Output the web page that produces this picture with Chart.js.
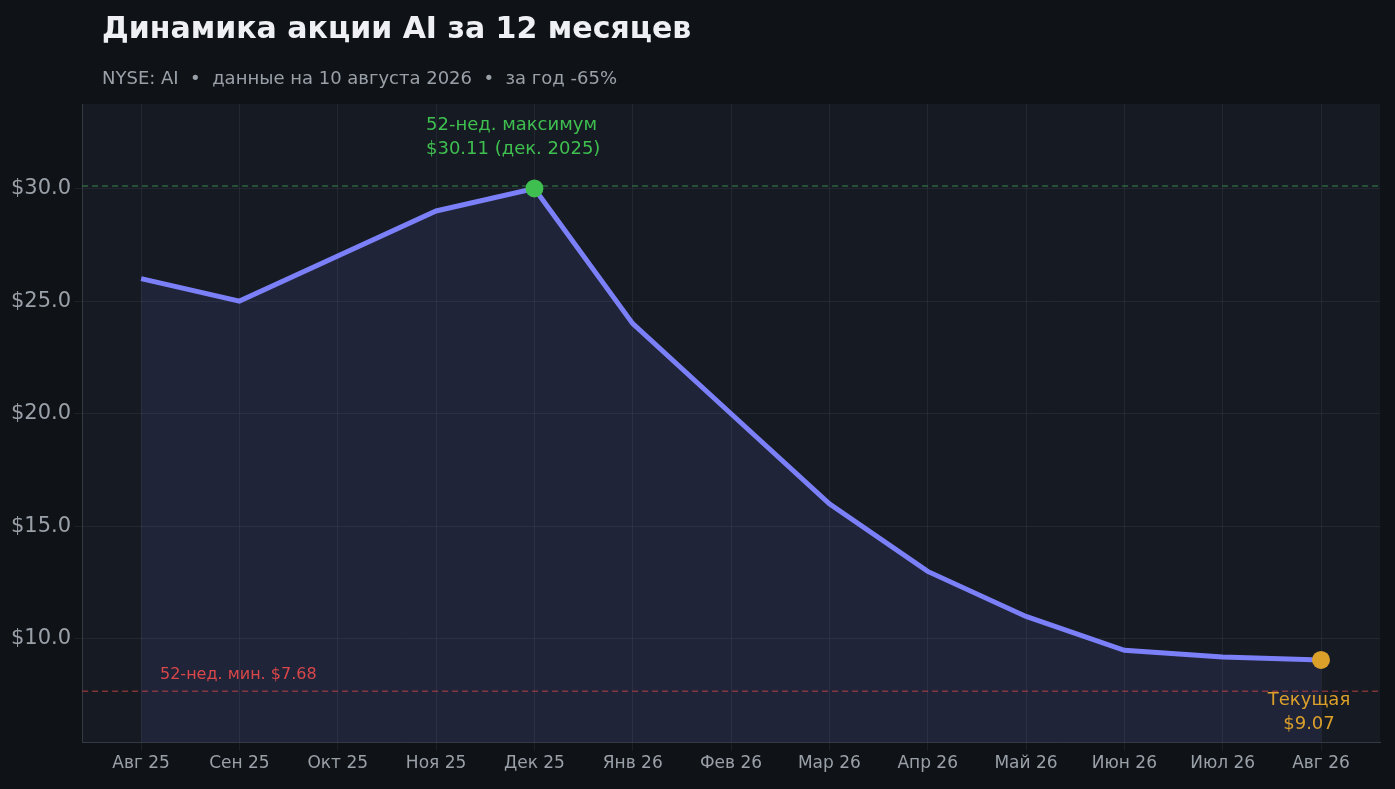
<!DOCTYPE html>
<html><head><meta charset="utf-8">
<script src="https://cdn.jsdelivr.net/npm/chart.js@4/dist/chart.umd.min.js"></script>
<style>html,body{margin:0;background:#0f1317;overflow:hidden}</style>
</head><body><canvas id="c" width="1395" height="789"></canvas>
<script>
const months=["Авг 25","Сен 25","Окт 25","Ноя 25","Дек 25","Янв 26","Фев 26","Мар 26","Апр 26","Май 26","Июн 26","Июл 26","Авг 26"];
const prices=[26,25,27,29,30,24,20,16,13,11,9.5,9.2,9.07];
const high52=30.11, low52=7.68;
const yTicks=[10,15,20,25,30];
const F='"DejaVu Sans", sans-serif';
const deco={id:'deco',
 beforeDraw(ch){const {ctx,chartArea:a}=ch;ctx.save();ctx.fillStyle='#161a22';ctx.fillRect(a.left,a.top,a.right-a.left,a.bottom-a.top);ctx.restore();},
 afterDatasetsDraw(ch){const {ctx,chartArea:a,scales:{x,y}}=ch;ctx.save();
  ctx.setLineDash([6,4]);ctx.lineWidth=1.5;
  ctx.strokeStyle='rgba(60,150,80,0.6)';ctx.beginPath();ctx.moveTo(a.left,y.getPixelForValue(high52));ctx.lineTo(a.right,y.getPixelForValue(high52));ctx.stroke();
  ctx.strokeStyle='rgba(200,70,70,0.6)';ctx.beginPath();ctx.moveTo(a.left,y.getPixelForValue(low52));ctx.lineTo(a.right,y.getPixelForValue(low52));ctx.stroke();
  ctx.setLineDash([]);
  ctx.fillStyle='#3fbf50';ctx.beginPath();ctx.arc(x.getPixelForValue(4),y.getPixelForValue(prices[4]),9,0,7);ctx.fill();
  ctx.fillStyle='#dba02a';ctx.beginPath();ctx.arc(x.getPixelForValue(12),y.getPixelForValue(prices[12]),9,0,7);ctx.fill();
  ctx.font='18px '+F;ctx.textAlign='left';ctx.fillStyle='#3fbf50';
  ctx.fillText('52-нед. максимум',426,130);ctx.fillText('$30.11 (дек. 2025)',426,154);
  ctx.font='16px '+F;ctx.fillStyle='#d9474a';ctx.fillText('52-нед. мин. $7.68',160,679);
  ctx.font='18px '+F;ctx.textAlign='center';ctx.fillStyle='#dba02a';
  ctx.fillText('Текущая',1309,705);ctx.fillText('$9.07',1309,729);
  ctx.textAlign='left';ctx.font='bold 30px '+F;ctx.fillStyle='#eef0f3';ctx.fillText('Динамика акции AI за 12 месяцев',102,38);
  ctx.font='18px '+F;ctx.fillStyle='#9aa0a8';ctx.fillText('NYSE: AI  •  данные на 10 августа 2026  •  за год -65%',102,84);
  ctx.restore();}};
new Chart(document.getElementById('c'),{type:'line',
 data:{datasets:[{data:prices.map((v,i)=>({x:i,y:v})),borderColor:'#7b80f8',borderWidth:5,backgroundColor:'rgba(110,115,230,0.12)',fill:'origin',pointRadius:0,tension:0}]},
 options:{responsive:false,animation:false,devicePixelRatio:1,
  layout:{padding:{top:104,right:15,left:8,bottom:12}},
  plugins:{legend:{display:false},tooltip:{enabled:false}},
  scales:{
   x:{type:'linear',min:-0.6,max:12.6,border:{color:'#333a44'},grid:{color:'rgba(255,255,255,0.06)'},
      afterBuildTicks(s){s.ticks=months.map((m,i)=>({value:i}));},
      ticks:{autoSkip:false,maxRotation:0,color:'#9aa0a8',font:{size:17,family:F},callback:(v)=>months[v]??''}},
   y:{min:5.4,max:33.75,border:{color:'#333a44'},grid:{color:'rgba(255,255,255,0.06)'},
      afterBuildTicks(s){s.ticks=yTicks.map(v=>({value:v}));},
      ticks:{color:'#9aa0a8',font:{size:21,family:F},callback:v=>'$'+v.toFixed(1)}}}},
 plugins:[deco]});
</script>
</body></html>
